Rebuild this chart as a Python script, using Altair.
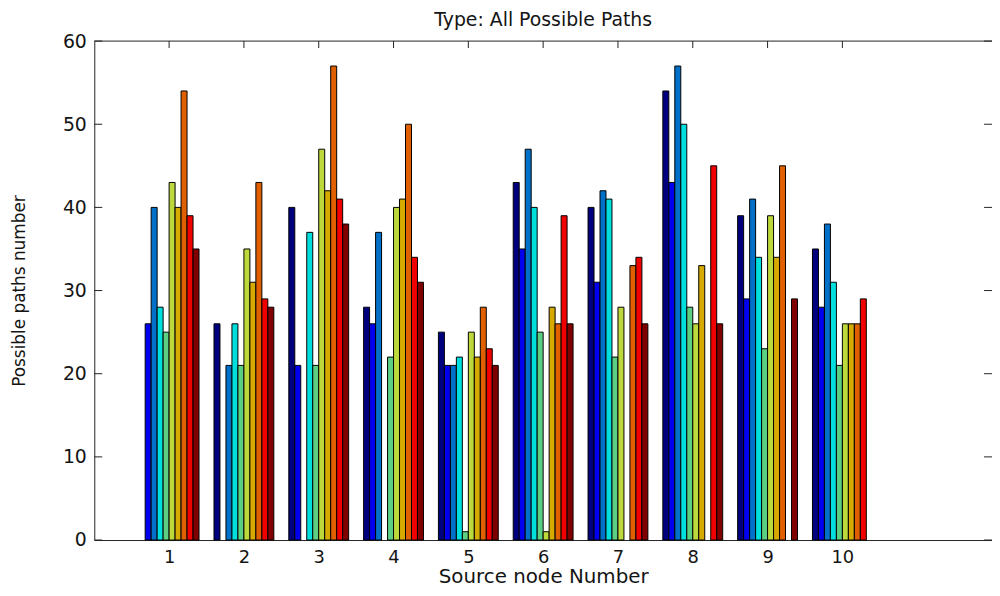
import altair as alt
import pandas as pd

# Source node groups and the ten destination series (MATLAB jet-like colours)
groups = [1, 2, 3, 4, 5, 6, 7, 8, 9, 10]
series_names = ["n1", "n2", "n3", "n4", "n5", "n6", "n7", "n8", "n9", "n10"]
series_colors = ["#00007f", "#0000ee", "#0070c8", "#00dede", "#5ccf82",
                 "#bcd83a", "#d6aa00", "#e06000", "#f00000", "#800000"]

n1 = [0, 26, 40, 28, 25, 43, 40, 54, 39, 35]
n2 = [26, 0, 21, 26, 21, 35, 31, 43, 29, 28]
n3 = [40, 21, 0, 37, 21, 47, 42, 57, 41, 38]
n4 = [28, 26, 37, 0, 22, 40, 41, 50, 34, 31]
n5 = [25, 21, 21, 22, 1, 25, 22, 28, 23, 21]
n6 = [43, 35, 47, 40, 25, 1, 28, 26, 39, 26]
n7 = [40, 31, 42, 41, 22, 28, 0, 33, 34, 26]
n8 = [54, 43, 57, 50, 28, 26, 33, 0, 45, 26]
n9 = [39, 29, 41, 34, 23, 39, 34, 45, 0, 29]
n10 = [35, 28, 38, 31, 21, 26, 26, 26, 29, 0]

y_ticks = [0, 10, 20, 30, 40, 50, 60]

all_series = [n1, n2, n3, n4, n5, n6, n7, n8, n9, n10]
rows = []
for si, (name, vals) in enumerate(zip(series_names, all_series)):
    for g, v in zip(groups, vals):
        rows.append({"group": g, "idx": si + 1, "series": name, "value": v})
df = pd.DataFrame(rows)
df = df[df["value"] > 0]

W, H = 905, 503
FONT = "DejaVu Sans"
TXT = "#141414"

xscale = alt.Scale(domain=[0, 12], nice=False, zero=False)
yscale = alt.Scale(domain=[0, 60], nice=False)

xaxis = alt.Axis(values=groups, format="d", title="Source node Number",
                 labelFont=FONT, labelFontSize=18, labelFontWeight="normal",
                 labelColor=TXT, labelPadding=9, tickSize=0,
                 domainColor="#222222", domainWidth=1, grid=False,
                 titleFont=FONT, titleFontSize=20, titleFontWeight="normal",
                 titleColor=TXT, titlePadding=0)
yaxis = alt.Axis(values=y_ticks, format="d", title="Possible paths number",
                 labelFont=FONT, labelFontSize=19, labelFontWeight="normal",
                 labelColor=TXT, labelPadding=8, tickSize=0,
                 domainColor="#222222", domainWidth=1, grid=False,
                 titleFont=FONT, titleFontSize=17, titleFontWeight="normal",
                 titleColor=TXT, titleX=-75, titleY=H / 2,
                 titleAngle=270, titleAlign="center", titleBaseline="middle")

bars = alt.Chart(df).transform_calculate(
    x0="datum.group + (datum.idx - 5.5) * 0.08 - 0.04",
    x1="datum.group + (datum.idx - 5.5) * 0.08 + 0.04",
).mark_bar(stroke="black", strokeWidth=1, opacity=1).encode(
    x=alt.X("x0:Q", scale=xscale, axis=xaxis, title="Source node Number"),
    x2="x1:Q",
    y=alt.Y("value:Q", scale=yscale, axis=yaxis, title="Possible paths number"),
    y2=alt.datum(0),
    color=alt.Color("series:N", scale=alt.Scale(domain=series_names, range=series_colors),
                    legend=None),
)

xt = pd.DataFrame({"t": groups})
yt = pd.DataFrame({"v": y_ticks})

bottom_ticks = alt.Chart(xt).mark_rule(color="#222222", strokeWidth=1).encode(
    x=alt.X("t:Q", scale=xscale, axis=xaxis, title="Source node Number"),
    y=alt.value(H), y2=alt.value(H - 7))
top_ticks = alt.Chart(xt).mark_rule(color="#222222", strokeWidth=1).encode(
    x=alt.X("t:Q", scale=xscale, axis=xaxis, title="Source node Number"),
    y=alt.value(0), y2=alt.value(7))
left_ticks = alt.Chart(yt).mark_rule(color="#222222", strokeWidth=1).encode(
    y=alt.Y("v:Q", scale=yscale, axis=yaxis, title="Possible paths number"),
    x=alt.value(0), x2=alt.value(8))
right_ticks = alt.Chart(yt).mark_rule(color="#222222", strokeWidth=1).encode(
    y=alt.Y("v:Q", scale=yscale, axis=yaxis, title="Possible paths number"),
    x=alt.value(W - 8), x2=alt.value(W))
top_border = alt.Chart(xt.head(1)).mark_rule(color="#222222", strokeWidth=1).encode(
    x=alt.value(0), x2=alt.value(W), y=alt.value(0))

chart = alt.layer(bottom_ticks, bars, top_ticks, left_ticks, right_ticks, top_border).properties(
    width=W, height=H,
    title=alt.TitleParams("Type: All Possible Paths", font=FONT, fontSize=19,
                          fontWeight="normal", color=TXT, anchor="middle",
                          frame="group", offset=2),
    autosize=alt.AutoSizeParams(type="none"),
    padding={"left": 87, "top": 31, "right": 0, "bottom": 46},
    background="white",
).configure_view(stroke=None)

chart.save("out.html", embed_options={"renderer": "svg", "actions": False})
